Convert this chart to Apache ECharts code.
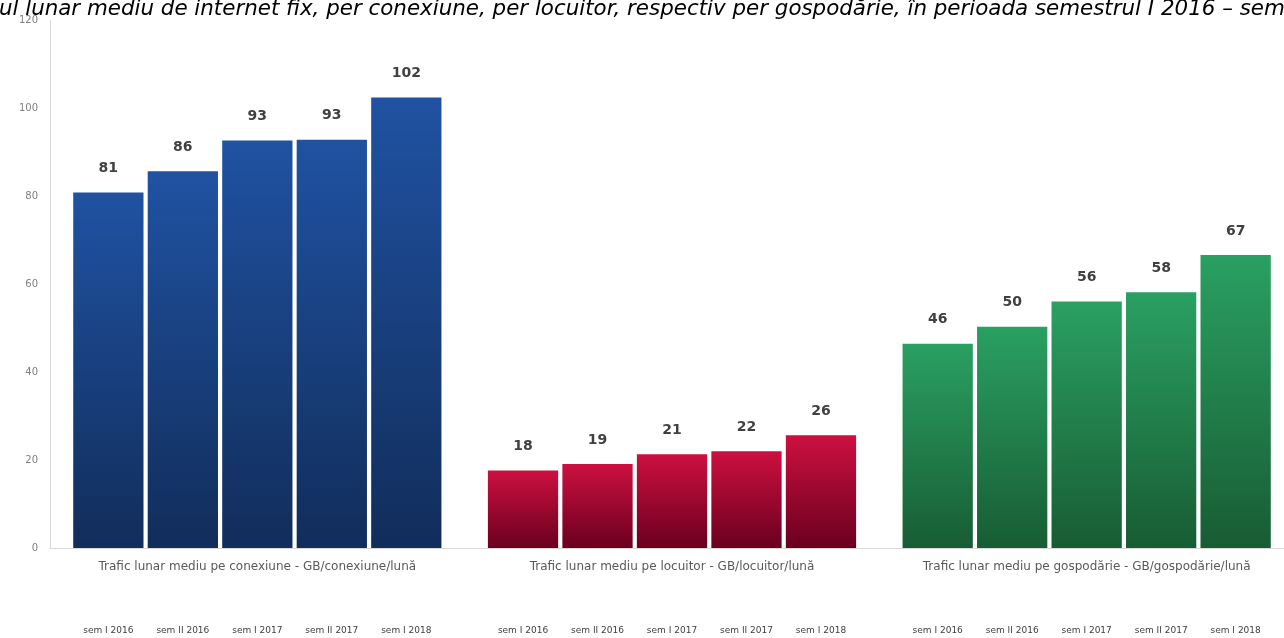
<!DOCTYPE html>
<html>
<head>
<meta charset="utf-8">
<script src="https://cdn.jsdelivr.net/npm/echarts@6/dist/echarts.min.js"></script>
<style>
  html, body { margin: 0; padding: 0; background: #ffffff; overflow: hidden; }
  #chart { width: 1300px; height: 638px; }
</style>
</head>
<body>
<div id="chart"></div>
<script>
const titleText = 'Traficul lunar mediu de internet fix, per conexiune, per locuitor, respectiv per gospodărie, în perioada semestrul I 2016 – semestrul I 2018';
const categories = [
  'Trafic lunar mediu pe conexiune - GB/conexiune/lună',
  'Trafic lunar mediu pe locuitor - GB/locuitor/lună',
  'Trafic lunar mediu pe gospodărie - GB/gospodărie/lună'
];
const semesters = ['sem I 2016', 'sem II 2016', 'sem I 2017', 'sem II 2017', 'sem I 2018'];
const perConexiune = [80.8, 85.6, 92.6, 92.8, 102.4];
const perLocuitor = [17.6, 19.1, 21.3, 22.0, 25.6];
const perGospodarie = [46.4, 50.3, 56.0, 58.1, 66.6];
const yTicks = [0, 20, 40, 60, 80, 100, 120];

const groupValues = [perConexiune, perLocuitor, perGospodarie];
const groupColors = [
  ['#2052a2', '#112d5a'],
  ['#cc1040', '#6a001e'],
  ['#2aa062', '#185c34']
];

function grad(c) {
  return new echarts.graphic.LinearGradient(0, 0, 0, 1, [
    { offset: 0, color: c[0] },
    { offset: 1, color: c[1] }
  ]);
}

const barSeries = semesters.map((s, i) => ({
  name: s,
  type: 'bar',
  xAxisIndex: 0,
  barCategoryGap: '11.2%',
  barGap: '6%',
  data: groupValues.map((g, k) => ({
    value: g[i],
    itemStyle: { color: grad(groupColors[k]) }
  })),
  label: {
    show: true,
    position: 'top',
    distance: 17,
    formatter: p => Math.round(p.value),
    fontFamily: 'DejaVu Sans',
    fontWeight: 'bold',
    fontSize: 14,
    color: '#404040'
  },
  silent: true
}));

const semSeries = semesters.map((s, i) => ({
  name: s + ' ',
  type: 'bar',
  xAxisIndex: 1,
  barCategoryGap: '11.2%',
  barGap: '6%',
  data: groupValues.map(g => g[i]),
  itemStyle: { color: 'rgba(0,0,0,0)' },
  label: {
    show: true,
    position: 'insideBottom',
    distance: 0,
    offset: [0, 87],
    formatter: () => s,
    fontFamily: 'DejaVu Sans',
    fontSize: 9,
    color: '#404040'
  },
  silent: true
}));

const chart = echarts.init(document.getElementById('chart'), null, { renderer: 'canvas' });
chart.setOption({
  animation: false,
  backgroundColor: '#ffffff',
  title: {
    text: titleText,
    left: -65,
    top: -6,
    textStyle: {
      fontFamily: 'DejaVu Sans',
      fontStyle: 'italic',
      fontWeight: 'normal',
      fontSize: 21.4,
      color: '#000000'
    }
  },
  grid: { left: 50, width: 1244, top: 20, bottom: 90 },
  xAxis: [
    {
      type: 'category',
      data: categories,
      axisLine: { show: true, lineStyle: { color: '#d9d9d9', width: 1 } },
      axisTick: { show: false },
      axisLabel: {
        margin: 13,
        fontFamily: 'DejaVu Sans',
        fontSize: 12,
        color: '#595959',
        interval: 0
      }
    },
    {
      type: 'category',
      data: categories,
      show: false,
      gridIndex: 0
    }
  ],
  yAxis: {
    type: 'value',
    min: yTicks[0],
    max: yTicks[yTicks.length - 1],
    interval: 20,
    axisLine: { show: true, lineStyle: { color: '#d9d9d9', width: 1 } },
    axisTick: { show: false },
    splitLine: { show: false },
    axisLabel: {
      margin: 12,
      fontFamily: 'DejaVu Sans',
      fontSize: 10,
      color: '#7f7f7f'
    }
  },
  series: barSeries.concat(semSeries)
});
</script>
</body>
</html>
